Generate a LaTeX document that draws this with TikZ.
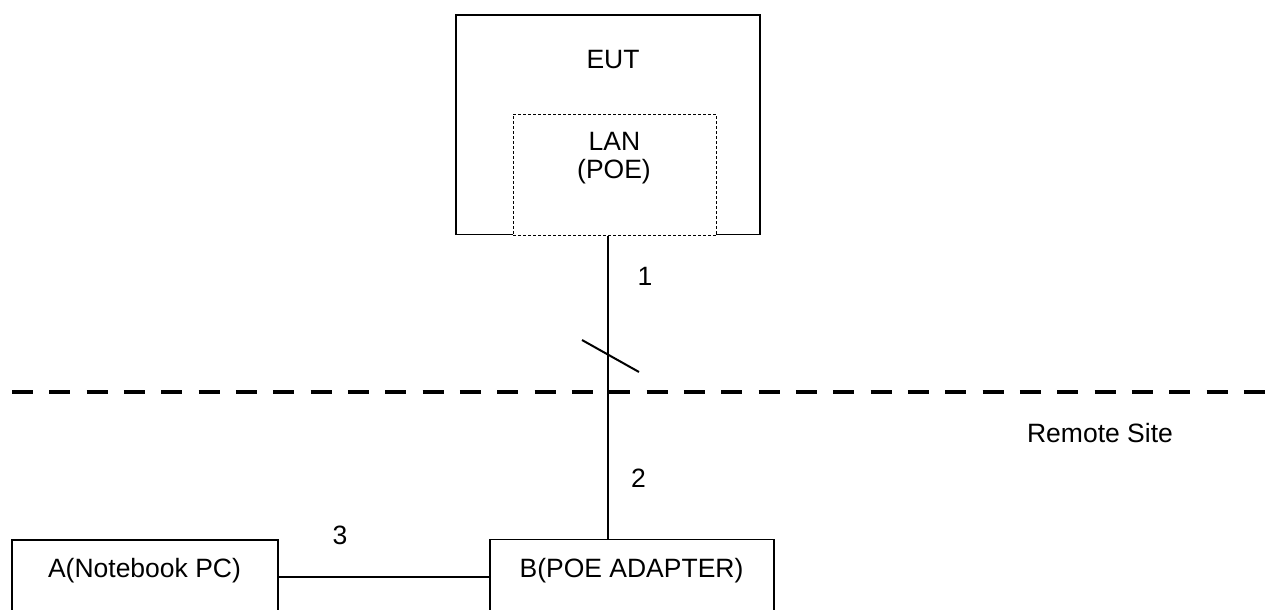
\documentclass[tikz,border=0pt]{standalone}
\usepackage{fontspec}
\setmainfont{Liberation Sans}
\begin{document}
\begin{tikzpicture}[x=1pt,y=-1pt,
  font=\fontsize{26.5}{28}\selectfont,
  unit/.style={draw, line width=1.6pt, fill=white, inner sep=0pt, outer sep=0pt, anchor=north west},
  port/.style={unit, line width=1pt, dash pattern=on 3pt off 2pt},
  caption/.style={inner sep=0pt, anchor=base},
  wire/.style={line width=2pt},
  border/.style={line width=4.7pt, dash pattern=on 21pt off 16.33pt}]
\useasboundingbox (0,0) rectangle (1279,610);
\clip (0,0) rectangle (1279,610);

% equipment under test with its LAN (PoE) port
\node[unit, minimum width=304.3pt, minimum height=219.3pt] (EUT) at (455.7,15) {};
\node[port, minimum width=203pt, minimum height=121.7pt] (LAN) at (513,114) {};
\node[caption] (eutlabel) at (613,69) {EUT};
\node[caption] (lanlabel) at (614.5,150) {LAN};
\node[caption] (poelabel) at (614,178) {(POE)};

% remote site equipment
\node[unit, minimum width=266pt, minimum height=100pt] (A) at (12,540) {};
\node[unit, minimum width=284pt, minimum height=100pt] (B) at (490,539.5) {};
\node[caption] (alabel) at (144.5,577) {A(Notebook PC)};
\node[caption] (blabel) at (631.5,577) {B(POE ADAPTER)};

% site boundary
\coordinate (bw) at (12,392);
\coordinate (be) at (1267,392);
\draw[border] (bw) -- (be);
\node[caption] (remote) at (1100,442) {Remote Site};

% cables
\draw[wire] (LAN.south -| EUT.south) -- (EUT.south |- B.north);
\coordinate (s1) at (582,340);
\coordinate (s2) at (639,372);
\draw[wire] (s1) -- (s2);
\coordinate (link) at (0,576.5);
\draw[wire] (A.east |- link) -- (B.west |- link);

% cable numbers
\node[caption] (c1) at (645,285) {1};
\node[caption] (c2) at (638.5,487) {2};
\node[caption] (c3) at (340,544) {3};
\end{tikzpicture}
\end{document}
